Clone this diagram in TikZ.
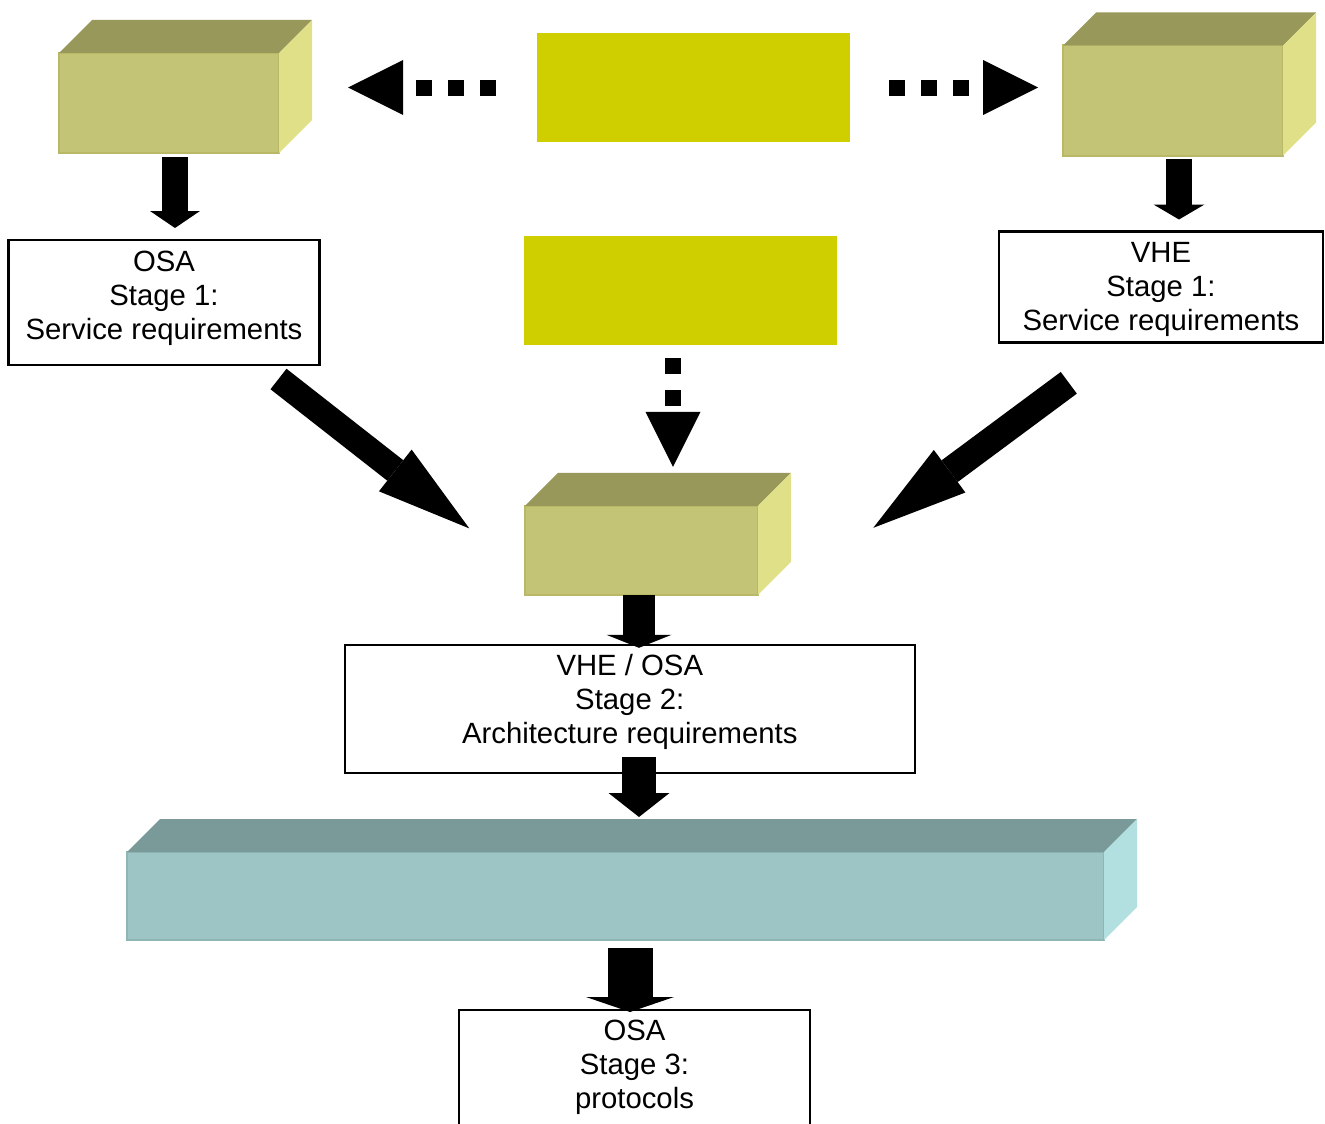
\documentclass[tikz,border=0pt]{standalone}
\usepackage{fontspec}
\setmainfont{Liberation Sans}
\usetikzlibrary{arrows.meta,positioning}

\definecolor{olivetop}{RGB}{152,152,90}
\definecolor{olivefront}{RGB}{196,196,118}
\definecolor{oliveside}{RGB}{224,224,136}
\definecolor{oliveedge}{RGB}{184,184,102}
\definecolor{tealtop}{RGB}{122,153,153}
\definecolor{tealfront}{RGB}{157,197,197}
\definecolor{tealside}{RGB}{178,224,224}
\definecolor{tealedge}{RGB}{144,181,181}
\definecolor{signal}{RGB}{207,207,0}

% top and right faces of a box, drawn from its front node
\newcommand{\cubefaces}[3]{%
  \fill[#2] (#1.north west) -- ++(33,-33) -- ([shift={(33,-33)}]#1.north east) -- (#1.north east) -- cycle;
  \fill[#3] (#1.north east) -- ++(33,-33) -- ([shift={(33,-33)}]#1.south east) -- (#1.south east) -- cycle;
}

\begin{document}
\begin{tikzpicture}[x=1pt, y=-1pt,
  cube/.style = {draw=#1edge, fill=#1front, line width=2pt, outer sep=0pt, minimum width=220pt},
  panel/.style = {fill=signal, minimum width=313pt, minimum height=109pt, outer sep=0pt},
  stage/.style = {draw, line width=2.5pt, align=center, outer sep=0pt, font=\fontsize{29.3}{34}\selectfont},
  fatarrow/.style n args = {3}{line width=#1, -{Triangle[width=#2, length=#3, line width=0pt]}},
  dotarrow/.style = {line width=16pt, dash pattern=on 16pt off 16pt, -{Triangle[width=55pt, length=55pt, line width=0pt]}}]
  \useasboundingbox (0,0) rectangle (1325,1124);
  \clip (0,0) rectangle (1325,1124);

  % Yellow panels
  \node[panel] (src) at (693.4,87.5) {};
  \node[panel, below=94pt of src, xshift=-13.4pt] (src2) {};

  % Boxes
  \node[cube=olive, minimum height=100pt] (osaspec) at (169,103) {};
  \node[cube=olive, minimum height=110pt] (vhespec) at (1173,100.5) {};
  \node[cube=olive, minimum width=233pt, minimum height=89pt] (joint) at (641.5,550.3) {};
  \node[cube=teal, minimum width=977pt, minimum height=88pt] (bar) at (615.5,896) {};
  \cubefaces{osaspec}{olivetop}{oliveside}
  \cubefaces{vhespec}{olivetop}{oliveside}
  \cubefaces{joint}{olivetop}{oliveside}
  \cubefaces{bar}{tealtop}{tealside}

  % Stages
  \node[stage, minimum width=311pt, minimum height=125pt, text depth=14.5pt, below=87pt of osaspec, xshift=-5pt] (osa1) {OSA\\Stage 1:\\Service requirements};
  \node[stage, minimum width=324pt, minimum height=111pt, text depth=0.5pt, below=76pt of vhespec, xshift=-12pt] (vhe1) {VHE\\Stage 1:\\Service requirements};
  \node[stage, minimum width=570pt, minimum height=128pt, text depth=20pt, below=50pt of joint, xshift=-11.7pt] (stage2) {VHE / OSA\\Stage 2:\\Architecture requirements};
  \node[stage, minimum width=351pt, minimum height=128pt, text depth=20pt, below=70pt of bar, xshift=19pt] (stage3) {OSA\\Stage 3:\\protocols};

  % Dotted arrows
  \draw[dotarrow, shorten <=41pt, shorten >=69pt] (src.west) -- (src.west -| osaspec.east);
  \draw[dotarrow, shorten <=39pt, shorten >=25pt] (src.east) -- (src.east -| vhespec.west);
  \draw[dotarrow, shorten <=13pt, shorten >=39pt] ([xshift=-7pt]src2.south) -- ([xshift=31.5pt]joint.north);

  % Block arrows
  \draw[fatarrow={26pt}{50pt}{17pt}] ([xshift=6pt, yshift=-4pt]osaspec.south) -- ([xshift=11pt, yshift=12pt]osa1.north);
  \draw[fatarrow={26pt}{51pt}{15pt}] ([xshift=6pt, yshift=-3pt]vhespec.south) -- ([xshift=18pt, yshift=12pt]vhe1.north);
  \draw[fatarrow={26pt}{53pt}{94pt}] ([shift={(-41,14)}]osa1.south east) -- ([shift={(-55.7,22.6)}]joint.north west);
  \draw[fatarrow={27pt}{53pt}{95pt}] ([shift={(69.8,40.3)}]vhe1.south west) -- ([shift={(115.3,22)}]joint.north east);
  \draw[fatarrow={32pt}{65pt}{13pt}] ([xshift=-2.5pt]joint.south) -- ([xshift=9.2pt, yshift=-3pt]stage2.north);
  \draw[fatarrow={34pt}{61pt}{24pt}] ([xshift=9.2pt, yshift=16pt]stage2.south) -- ([xshift=23.5pt, yshift=35pt]bar.north);
  \draw[fatarrow={45pt}{88pt}{15pt}] ([xshift=14.5pt, yshift=-8pt]bar.south) -- ([xshift=-4.5pt, yshift=-2pt]stage3.north);
\end{tikzpicture}
\end{document}
